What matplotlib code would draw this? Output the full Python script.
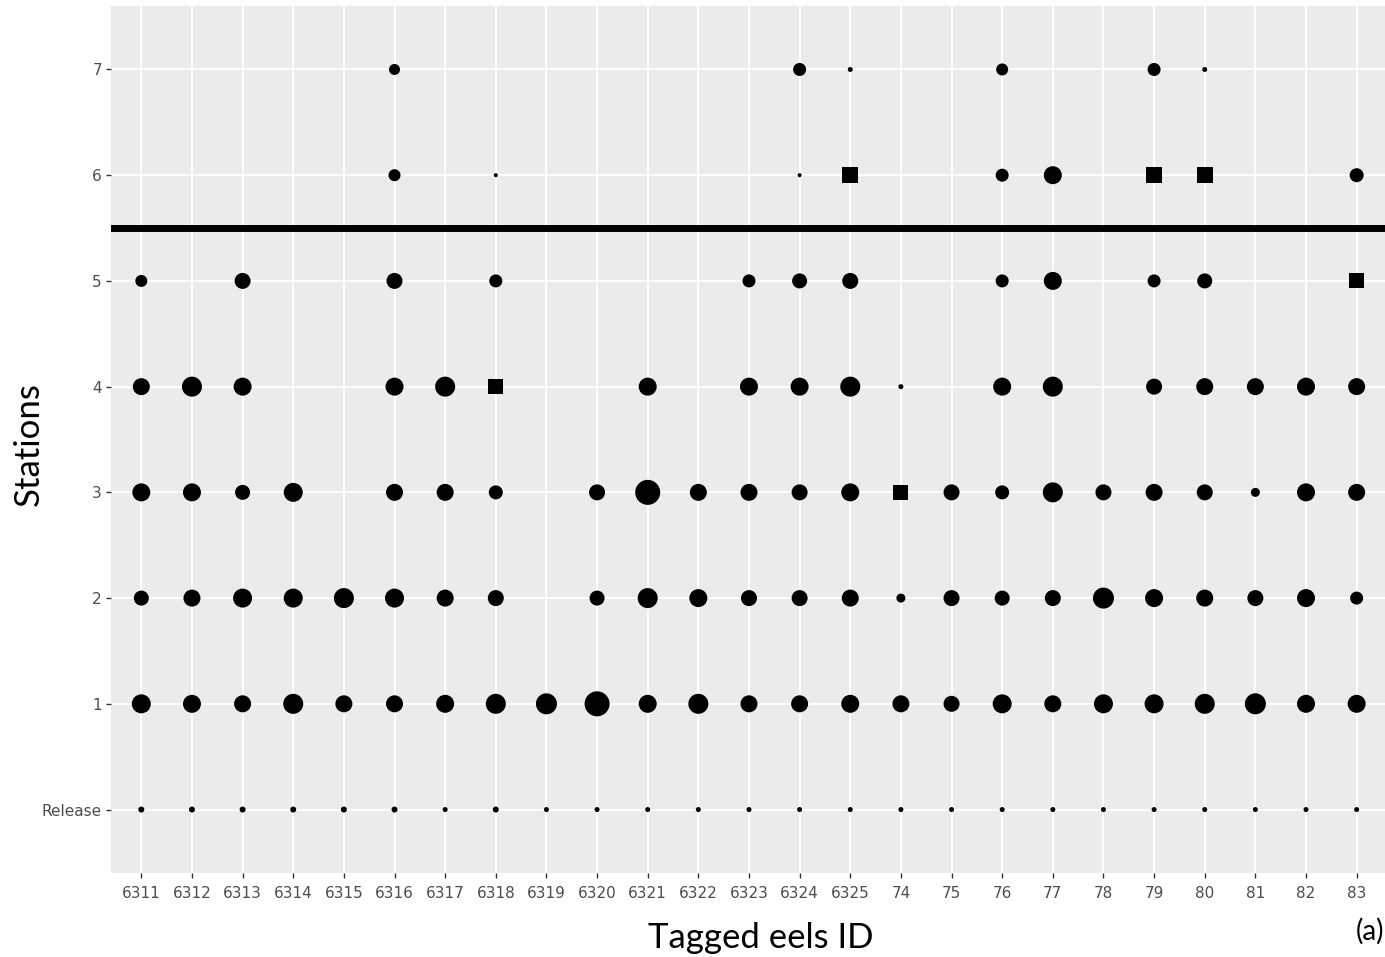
import matplotlib
matplotlib.use("Agg")
import matplotlib.pyplot as plt

eels = ["6311", "6312", "6313", "6314", "6315", "6316", "6317", "6318", "6319",
        "6320", "6321", "6322", "6323", "6324", "6325",
        "74", "75", "76", "77", "78", "79", "80", "81", "82", "83"]
station_labels = ["Release", "1", "2", "3", "4", "5", "6", "7"]

# approximate marker diameter (0 = no detection)
release = [6, 6, 6, 6, 6, 6, 5, 6, 5, 5, 5, 5, 5, 5, 5, 5, 5, 5, 5, 5, 5, 5, 5, 5, 5]
st1 = [19, 18, 17, 20, 17, 17, 18, 20, 21, 25, 18, 20, 17, 17, 18, 17, 16, 19, 17, 19, 19, 20, 21, 18, 18]
st2 = [15, 17, 19, 19, 20, 19, 17, 16, 0, 15, 20, 18, 16, 16, 17, 9, 16, 15, 16, 21, 18, 17, 16, 18, 13]
st3 = [18, 18, 15, 19, 0, 17, 17, 14, 0, 16, 25, 17, 17, 16, 18, 15, 16, 14, 20, 16, 17, 16, 9, 18, 17]
st4 = [17, 20, 18, 0, 0, 18, 20, 15, 0, 0, 18, 0, 18, 18, 20, 5, 0, 18, 20, 0, 16, 17, 17, 18, 17]
st5 = [12, 0, 16, 0, 0, 16, 0, 13, 0, 0, 0, 0, 13, 15, 16, 0, 0, 13, 18, 0, 13, 15, 0, 0, 15]
st6 = [0, 0, 0, 0, 0, 12, 0, 4, 0, 0, 0, 0, 0, 4, 16, 0, 0, 13, 18, 0, 16, 16, 0, 0, 14]
st7 = [0, 0, 0, 0, 0, 11, 0, 0, 0, 0, 0, 0, 0, 13, 5, 0, 0, 12, 0, 0, 13, 5, 0, 0, 0]
rows = [release, st1, st2, st3, st4, st5, st6, st7]

# detections drawn as squares (eel, station)
squares = [("6318", "4"), ("74", "3"), ("6325", "6"), ("79", "6"), ("80", "6"), ("83", "5")]

fig = plt.figure(figsize=(13.85, 9.57), dpi=100)
ax = fig.add_axes([0.0801, 0.0878, 0.9199, 0.9059])
ax.set_facecolor("#EBEBEB")

cx, cy, cs = [], [], []
sx, sy, ss = [], [], []
for j, vals in enumerate(rows):
    for i, d in enumerate(vals):
        if d == 0:
            continue
        s = (d * 0.72) ** 2
        if (eels[i], station_labels[j]) in squares:
            sx.append(i); sy.append(j); ss.append(s)
        else:
            cx.append(i); cy.append(j); cs.append(s)

ax.scatter(cx, cy, s=cs, c="black", marker="o", edgecolors="none", zorder=3)
ax.scatter(sx, sy, s=ss, c="black", marker="s", edgecolors="none", zorder=3)
ax.axhline(5.5, color="black", linewidth=5, zorder=4)

ax.set_xlim(-0.6, 24.56)
ax.set_ylim(-0.6, 7.6)
ax.set_xticks(range(len(eels)))
ax.set_xticklabels(eels)
ax.set_yticks(range(len(station_labels)))
ax.set_yticklabels(station_labels)
ax.grid(True, color="white", linewidth=1.3, zorder=0)
ax.set_axisbelow(True)
for sp in ax.spines.values():
    sp.set_visible(False)

tick_font = ["Liberation Sans Narrow", "DejaVu Sans"]
ax.tick_params(axis="both", colors="#333333", length=3.5, width=1.0, pad=3)
ax.tick_params(axis="x", pad=6)
for lab in ax.get_xticklabels() + ax.get_yticklabels():
    lab.set_family(tick_font)
    lab.set_fontsize(11)
    lab.set_color("#4D4D4D")

ax.set_xlabel("Tagged eels ID", fontsize=25, family=["Lato", "DejaVu Sans"])
ax.xaxis.set_label_coords(0.51, -0.057)
ax.set_ylabel("Stations", fontsize=25, family=["Lato", "DejaVu Sans"])
ax.yaxis.set_label_coords(-0.052, 0.495)
fig.text(0.9995, 0.027, "(a)", fontsize=20, family=["Lato", "DejaVu Sans"], ha="right", va="center")

fig.savefig("out.png", dpi=100)
